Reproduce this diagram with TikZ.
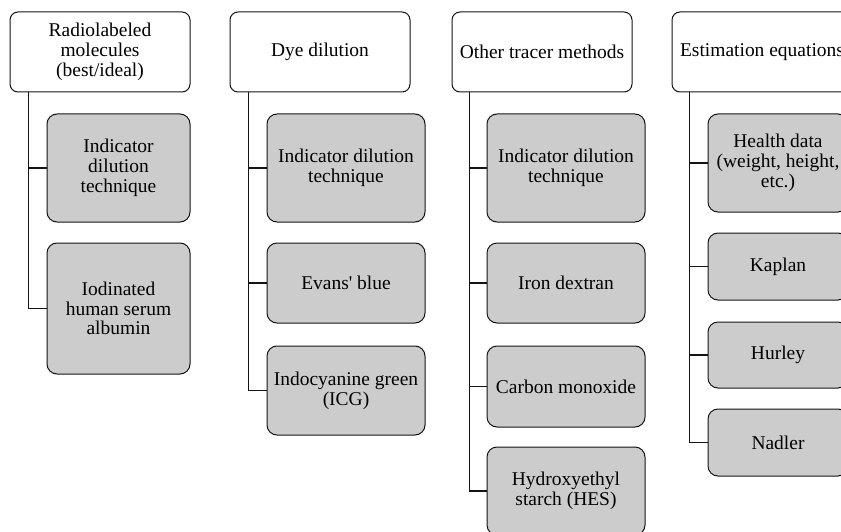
\documentclass[tikz,border=0pt]{standalone}
\usepackage{fontspec}
\setmainfont{Liberation Serif}

\tikzset{every picture/.style={line width=0.75pt}}
\tikzset{
  headbox/.style={draw={rgb, 255:red, 20; green, 20; blue, 20 }, fill=white, rounded corners=6pt, align=center, inner sep=0.75pt, minimum width=135pt, minimum height=60pt, font=\fontsize{14.6}{14.8}\selectfont},
  subbox/.style={draw={rgb, 255:red, 20; green, 20; blue, 20 }, fill={rgb, 255:red, 204; green, 204; blue, 204 }, rounded corners=7.5pt, align=center, inner sep=0.75pt, minimum width=118.5pt, font=\fontsize{14.6}{14.8}\selectfont},
  branch/.style={draw={rgb, 255:red, 20; green, 20; blue, 20 }, line width=0.9pt}
}

\begin{document}
\begin{tikzpicture}[x=0.75pt,y=0.75pt,yscale=-1,xscale=1]
\useasboundingbox (0,0) rectangle (841,531);
\clip (0,0) rectangle (841,531);

% Column 1
\node [headbox] (h1) at (100,52) {Radiolabeled\\molecules\\(best/ideal)};
\node [subbox, minimum width=107.25pt, minimum height=81pt] (c11) at (118.5,168) {Indicator\\dilution\\technique};
\node [subbox, minimum width=107.25pt, minimum height=98.25pt] (c12) at (118.5,308.5) {Iodinated\\human serum\\albumin};

% Column 2
\node [headbox] (h2) at (320,52) {Dye dilution};
\node [subbox, minimum height=81pt] (c21) at (346,168) {Indicator dilution\\technique};
\node [subbox, minimum height=60pt] (c22) at (346,283) {Evans\textquotesingle\ blue};
\node [subbox, minimum height=66.75pt] (c23) at (346,390.5) {Indocyanine green\\(ICG)};

% Column 3
\node [headbox] (h3) at (542,52) {Other tracer methods};
\node [subbox, minimum height=81pt] (c31) at (566,168) {Indicator dilution\\technique};
\node [subbox, minimum height=60pt] (c32) at (566,283) {Iron dextran};
\node [subbox, minimum height=60.75pt] (c33) at (566,386.5) {Carbon monoxide};
\node [subbox, minimum height=66pt] (c34) at (566,491) {Hydroxyethyl\\starch (HES)};

% Column 4
\node [headbox] (h4) at (762,52) {Estimation equations};
\node [subbox, minimum width=105pt, minimum height=73.5pt] (c41) at (778,163) {Health data\\(weight, height,\\etc.)};
\node [subbox, minimum width=105pt, minimum height=50.25pt] (c42) at (778,266.5) {Kaplan};
\node [subbox, minimum width=105pt, minimum height=49.5pt] (c43) at (778,355) {Hurley};
\node [subbox, minimum width=105pt, minimum height=50.25pt] (c44) at (778,442.5) {Nadler};

%Straight Lines
\draw [branch] (h1.south west) ++(19,0) |- (c11.west);
\draw [branch] (h1.south west) ++(19,0) |- (c12.west);
%Straight Lines
\draw [branch] (h2.south west) ++(19,0) |- (c21.west);
\draw [branch] (h2.south west) ++(19,0) |- (c22.west);
\draw [branch] (h2.south west) ++(19,0) |- (c23.west);
%Straight Lines
\draw [branch] (h3.south west) ++(18,0) |- (c31.west);
\draw [branch] (h3.south west) ++(18,0) |- (c32.west);
\draw [branch] (h3.south west) ++(18,0) |- (c33.west);
\draw [branch] (h3.south west) ++(18,0) |- (c34.west);
%Straight Lines
\draw [branch] (h4.south west) ++(18,0) |- (c41.west);
\draw [branch] (h4.south west) ++(18,0) |- (c42.west);
\draw [branch] (h4.south west) ++(18,0) |- (c43.west);
\draw [branch] (h4.south west) ++(18,0) |- (c44.west);
\end{tikzpicture}
\end{document}
